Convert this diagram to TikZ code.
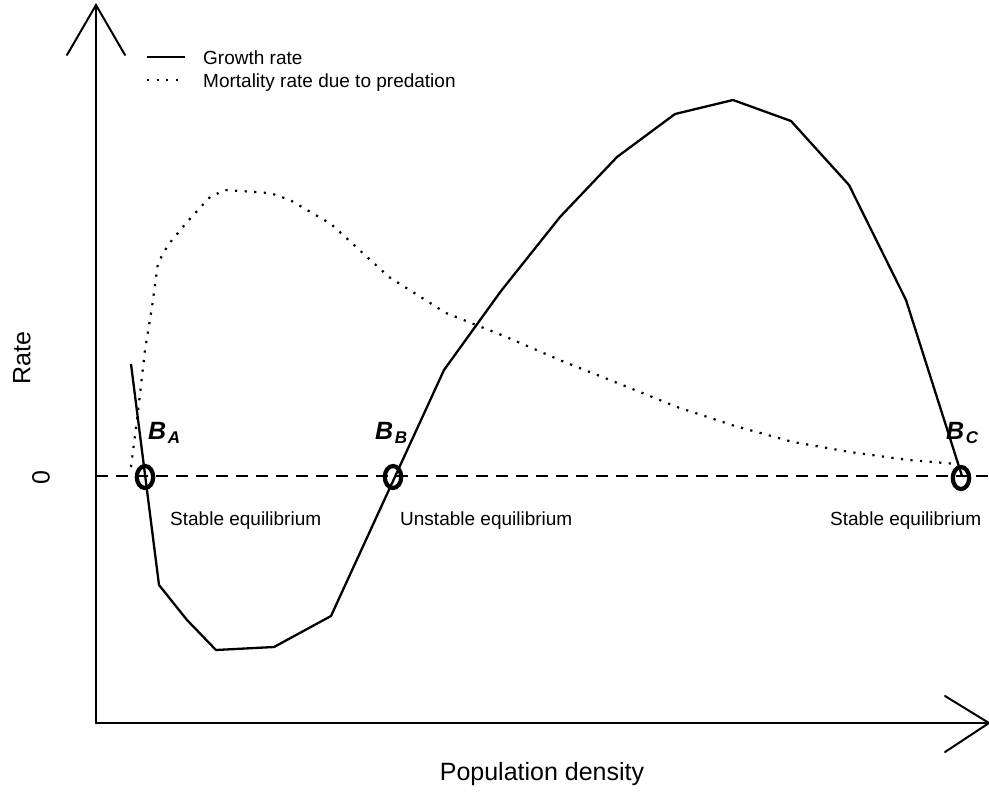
\documentclass[tikz,border=0pt]{standalone}
\usepackage{fontspec}
\setmainfont{Liberation Sans}
\begin{document}
\begin{tikzpicture}[x=1pt,y=-1pt,
  axisline/.style={line width=2pt,line cap=round},
  growth/.style={line width=2.3pt,line join=round},
  mortality/.style={line width=2.2pt,dash pattern=on 2.2pt off 7.4pt},
  zeroline/.style={line width=2pt,dash pattern=on 12pt off 8pt},
  eqmark/.style={line width=4.2pt},
  small/.style={font=\fontsize{19}{19}\selectfont,inner sep=0pt},
  big/.style={font=\fontsize{25}{25}\selectfont,inner sep=0pt},
  blabel/.style={inner sep=0pt,anchor=base west}]
\useasboundingbox (0,0) rectangle (989,793);
% axes
\coordinate (ytop) at (96,5);
\coordinate (orig) at (96,723);
\coordinate (xend) at (989,723);
\draw[axisline] (orig) -- (ytop);
\draw[axisline] (67,55) -- (ytop) -- (125,55);
\draw[axisline] (orig) -- (xend);
\draw[axisline] (945,696) -- (xend) -- (945,752);
% zero line
\coordinate (z0) at (96,476);
\coordinate (z1) at (989,476);
\draw[zeroline] (z0) -- (z1);
% mortality (dotted)
\draw[mortality] (131,467) -- (137,420) -- (145,350) -- (152,307) -- (158,263) -- (168,245)
  -- (187,222) -- (210,197) -- (225,190) -- (270,193) -- (290,200) -- (331,224)
  -- (389,277) -- (446,313) -- (504,336) -- (562,361) -- (620,384) -- (677,407)
  -- (735,426) -- (793,442) -- (850,452) -- (908,460) -- (957,464);
% growth (solid)
\draw[growth] (131,364) -- (159,585) -- (187,620) -- (216,650) -- (274,647) -- (331,616)
  -- (444,370) -- (501,291) -- (560,217) -- (617,157) -- (675,114) -- (733,100)
  -- (791,121) -- (849,185) -- (906,300) -- (962,476);
% equilibrium marks
\draw[eqmark] (145,477) ellipse [x radius=8.2,y radius=11];
\draw[eqmark] (393,477) ellipse [x radius=8.2,y radius=11];
\draw[eqmark] (961,478) ellipse [x radius=8.2,y radius=11];
% B labels
\node[blabel] (ba) at (148,439) {\fontsize{25}{25}\selectfont\bfseries\itshape B\hspace{1.5pt}\raisebox{-4pt}{\fontsize{17}{17}\selectfont A}};
\node[blabel] (bb) at (375,439) {\fontsize{25}{25}\selectfont\bfseries\itshape B\hspace{1.5pt}\raisebox{-4pt}{\fontsize{17}{17}\selectfont B}};
\node[blabel] (bc) at (946,439) {\fontsize{25}{25}\selectfont\bfseries\itshape B\hspace{1.5pt}\raisebox{-4pt}{\fontsize{17}{17}\selectfont C}};
% equilibrium texts
\node[small,anchor=base west] (sa) at (170,525) {Stable equilibrium};
\node[small,anchor=base west] (ub) at (400,525) {Unstable equilibrium};
\node[small,anchor=base west] (sc) at (830,525) {Stable equilibrium};
% legend
\coordinate (l1a) at (147,57); \coordinate (l1b) at (185,57);
\coordinate (l2a) at (147,80); \coordinate (l2b) at (185,80);
\draw[growth] (l1a) -- (l1b);
\draw[mortality] (l2a) -- (l2b);
\node[small,anchor=base west] (lg1) at (203,64) {Growth rate};
\node[small,anchor=base west] (lg2) at (203,87) {Mortality rate due to predation};
% axis titles
\node[big,anchor=base] (xl) at (542,780) {Population density};
\node[big,rotate=90] (yl) at (22,358) {Rate};
\node[big,rotate=90] (y0) at (41,478) {0};
\end{tikzpicture}
\end{document}
